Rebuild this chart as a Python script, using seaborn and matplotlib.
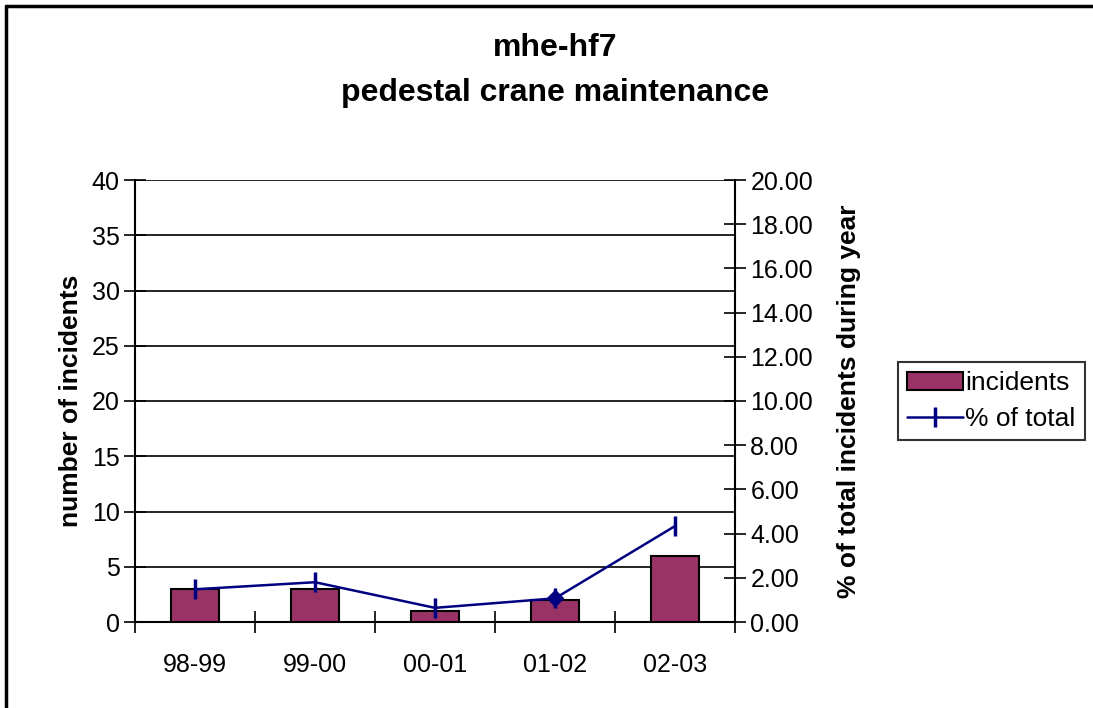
import matplotlib
matplotlib.use("Agg")
import matplotlib.pyplot as plt
import seaborn as sns
import pandas as pd
from matplotlib.lines import Line2D
from matplotlib.patches import Patch

# --- DATA ---
years = ["98-99", "99-00", "00-01", "01-02", "02-03"]
incidents = [3, 3, 1, 2, 6]
pct_total = [1.48, 1.80, 0.64, 1.07, 4.34]

bar_color = "#993366"
line_color = "#000080"

sns.set_theme(style="white")
plt.rcParams["font.family"] = ["Liberation Sans", "DejaVu Sans"]
plt.rcParams["text.color"] = "black"
plt.rcParams["axes.labelcolor"] = "black"
plt.rcParams["xtick.color"] = "black"
plt.rcParams["ytick.color"] = "black"

df = pd.DataFrame({"year": years, "incidents": incidents, "pct": pct_total})

fig = plt.figure(figsize=(10.93, 7.08), dpi=100)
ax = fig.add_axes([135 / 1093, 1 - 622 / 708, 600 / 1093, 442 / 708])

# --- bars ---
sns.barplot(data=df, x="year", y="incidents", color=bar_color, width=0.4,
            edgecolor="black", linewidth=1.5, saturation=1, ax=ax, zorder=3)
ax.set_ylim(0, 40)
ax.set_yticks(range(0, 41, 5))
ax.set_xlim(-0.5, 4.5)
ax.set_xticks([i + 0.5 for i in range(-1, 5)], minor=True)
ax.set_xticks(range(5))
ax.set_xticklabels(years)
for y in range(5, 41, 5):
    ax.axhline(y, color="black", linewidth=1.2, zorder=1)
ax.tick_params(axis="x", which="major", length=0, labelsize=18, pad=22)
ax.tick_params(axis="x", which="minor", direction="inout", length=16, width=1.2, color="black", bottom=True)
ax.tick_params(axis="y", direction="inout", length=16, width=1.2, color="black", left=True, labelsize=18, pad=3)
ax.set_xlabel("")
ax.set_ylabel("number of incidents", fontsize=19, fontweight="bold", labelpad=6)
for side in ["top", "right"]:
    ax.spines[side].set_visible(False)
for side in ["left", "bottom"]:
    ax.spines[side].set_color("black")
    ax.spines[side].set_linewidth(1.5)

# --- line on secondary axis ---
ax2 = ax.twinx()
sns.lineplot(data=df, x="year", y="pct", color=line_color, linewidth=1.8,
             marker="|", markersize=14, markeredgewidth=2.5, markeredgecolor=line_color,
             ax=ax2, zorder=4)
ax2.plot(years[3], pct_total[3], marker="D", color=line_color, markersize=8, zorder=5)
ax2.set_ylim(0, 20)
ax2.set_yticks([i * 2 for i in range(11)])
ax2.set_yticklabels([f"{i * 2:.2f}" for i in range(11)])
ax2.tick_params(axis="y", direction="inout", length=16, width=1.2, color="black", right=True, labelsize=18, pad=3)
ax2.set_ylabel("% of total incidents during year", fontsize=19, fontweight="bold", labelpad=17)
ax2.set_xlabel("")
for side in ["top", "left", "bottom"]:
    ax2.spines[side].set_visible(False)
ax2.spines["right"].set_color("black")
ax2.spines["right"].set_linewidth(1.5)
ax2.grid(False)

# --- title ---
fig.text(555 / 1093, 1 - 48 / 708, "mhe-hf7", ha="center", va="center", fontsize=23, fontweight="bold")
fig.text(555 / 1093, 1 - 93 / 708, "pedestal crane maintenance", ha="center", va="center", fontsize=23, fontweight="bold")

# --- legend ---
handles = [Patch(facecolor=bar_color, edgecolor="black", linewidth=1.5),
           Line2D([0], [0], color=line_color, linewidth=1.8, marker="|", markersize=14, markeredgewidth=2.5)]
fig.legend(handles, ["incidents", "% of total"], loc="center left",
           bbox_to_anchor=(898 / 1093, 1 - 401 / 708), fontsize=19, frameon=True,
           fancybox=False, edgecolor="black", handlelength=2.1, handletextpad=0.1,
           borderpad=0.35, labelspacing=0.45, borderaxespad=0)
fig.legends[0].get_frame().set_linewidth(1.5)

# --- outer chart frame (left and top edges visible) ---
fig.add_artist(Line2D([6 / 1093, 6 / 1093], [0, 1 - 6 / 708], color="black", linewidth=2.5))
fig.add_artist(Line2D([6 / 1093, 1], [1 - 6 / 708, 1 - 6 / 708], color="black", linewidth=2.5))

fig.savefig("out.png", dpi=100)
